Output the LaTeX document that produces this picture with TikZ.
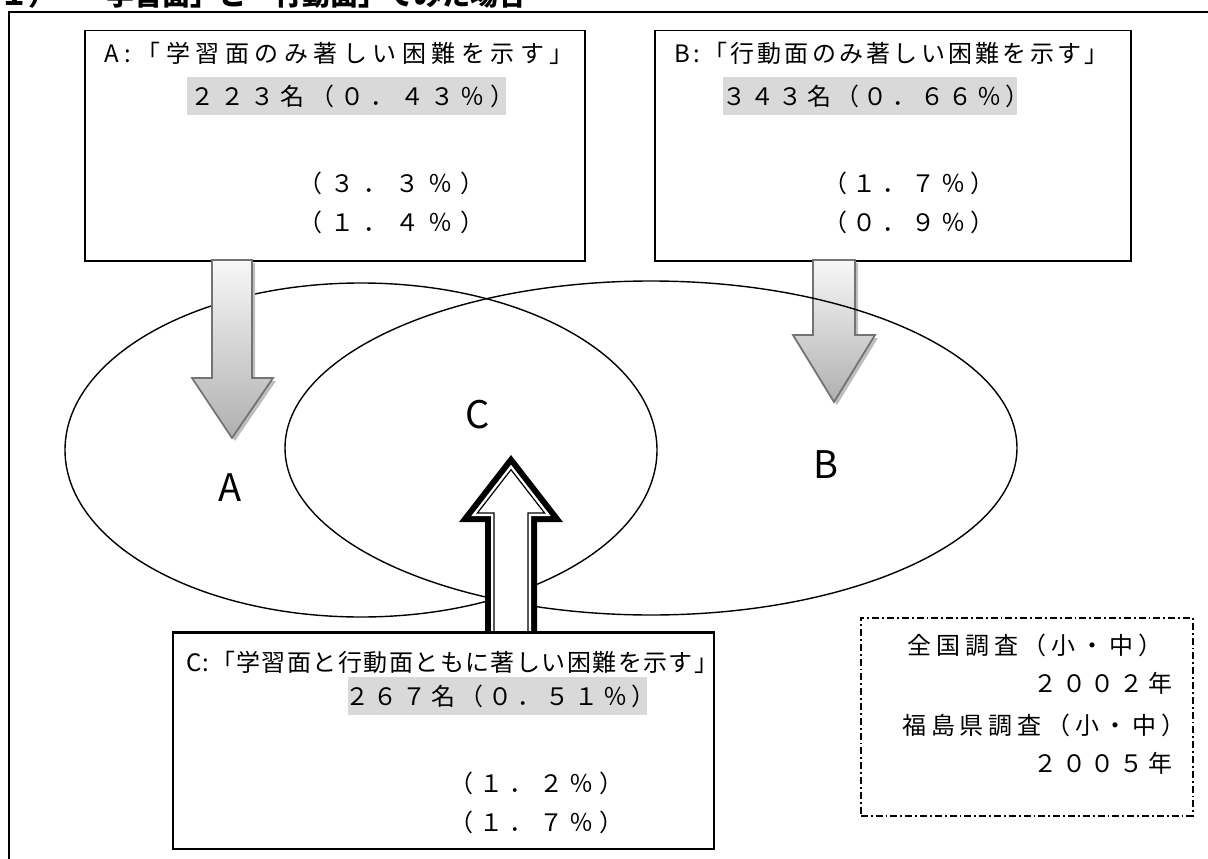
\documentclass[tikz,border=0pt]{standalone}
\usepackage{fontspec}
\setmainfont{Noto Sans CJK JP}
\newfontfamily\jpt{Noto Sans CJK JP}
\usetikzlibrary{shapes.geometric}
\definecolor{hlgray}{RGB}{217,217,217}
\definecolor{arrline}{RGB}{115,115,115}
\definecolor{arrshadow}{RGB}{190,190,190}
\newcommand{\jfont}[1]{\jpt\fontsize{24}{28}\selectfont\addfontfeature{LetterSpace=#1}}
\begin{document}
\begin{tikzpicture}[x=1pt,y=-1pt,
  jt/.style={inner sep=0pt, anchor=west, font=\jfont{#1}},
  jp/.style={inner sep=0pt, font=\jfont{#1}},
  jl/.style={inner sep=0pt, font=\jfont{20}},
  hl/.style={fill=hlgray, inner sep=0pt, minimum height=38pt, anchor=west},
  box/.style={draw, line width=1.5pt, inner sep=0pt, anchor=north west},
  dbox/.style={draw, line width=1.6pt, inner sep=0pt, anchor=north west, dash pattern=on 7pt off 3pt on 1.8pt off 3pt},
  venn/.style={draw, ellipse, line width=1.4pt, inner sep=0pt},
  lbl/.style={inner sep=0pt, font=\jpt\fontsize{38}{40}\selectfont},
  garrow/.style={top color=gray!6, bottom color=gray!62, draw=arrline, line width=1.8pt, line join=miter},
  gshadow/.style={fill=arrshadow}
]
\clip (0,0) rectangle (1208,859);
% title (cut at top, as in the reference)
\node[anchor=base west, inner sep=0pt, font=\jpt\bfseries\fontsize{28}{30}\selectfont] (title) at (0,6) {１）\hspace{22pt}「学習面」と「行動面」でみた場合};
% outer frame
\draw[line width=2pt] (9,12) rectangle (1225,875);

% boxes
\node[box, minimum width=500pt, minimum height=230pt] (boxA) at (84,30) {};
\node[box, minimum width=476pt, minimum height=230pt] (boxB) at (654,30) {};
\node[box, minimum width=541pt, minimum height=216pt] (boxC) at (172,632) {};
\node[dbox, minimum width=332pt, minimum height=198pt] (boxD) at (860,617) {};

% highlight bands
\node[hl, minimum width=319pt] (hA) at (187,96) {};
\node[hl, minimum width=294pt] (hB) at (723,96) {};
\node[hl, minimum width=299pt] (hC) at (348,696) {};

% box A texts
\node[jt=23] (tA) at (104,53) {A:「学習面のみ著しい困難を示す」};
\node[jt=25] (nA) at (190,96) {２２３名（０．４３％）};
\node[jp=35] (pA1) at (391.5,183) {（３．３％）};
\node[jp=35] (pA2) at (391.5,222) {（１．４％）};
% box B texts
\node[jt=13.5] (tB) at (674,53) {B:「行動面のみ著しい困難を示す」};
\node[jt=18] (nB) at (722,96) {３４３名（０．６６％）};
\node[jp=22.5] (pB1) at (909,183) {（１．７％）};
\node[jp=22.5] (pB2) at (909,222) {（０．９％）};
% box C texts
\node[jt=6] (tC) at (186,662) {C:「学習面と行動面ともに著しい困難を示す」};
\node[jt=19.5] (nC) at (345,696) {２６７名（０．５１％）};
\node[jp=25] (pC1) at (536,783) {（１．２％）};
\node[jp=25] (pC2) at (536,822) {（１．７％）};
% legend texts
\node[jl] (d1) at (1035,645) {全国調査（小・中）};
\node[jl] (d2) at (1103,683) {２００２年};
\node[jl] (d3) at (1044,725) {福島県調査（小・中）};
\node[jl] (d4) at (1103,763) {２００５年};

% arrow B (under the ellipse lines)
\fill[gshadow] (816,263) -- (816,338) -- (796,338) -- (837,405) -- (878,338) -- (858,338) -- (858,263) -- cycle;
\path[garrow] (813,260) -- (813,335) -- (793,335) -- (834,402) -- (875,335) -- (855,335) -- (855,260) -- cycle;

% Venn ellipses
\node[venn, minimum width=592pt, minimum height=334pt] (eA) at (361,450) {};
\node[venn, minimum width=732pt, minimum height=334pt] (eB) at (651,448) {};

% arrow A
\fill[gshadow] (215,263) -- (215,381) -- (195,381) -- (235,441) -- (276,381) -- (255,381) -- (255,263) -- cycle;
\path[garrow] (212,260) -- (212,378) -- (192,378) -- (232,438) -- (273,378) -- (252,378) -- (252,260) -- cycle;

% arrow C (double outline, pointing up)
\fill (485,632) -- (485,522) -- (459,522) -- (511,455) -- (563,522) -- (537,522) -- (537,632) -- cycle;
\fill[white] (491,632) -- (491,516) -- (471.3,516) -- (511,464.8) -- (550.7,516) -- (531,516) -- (531,632) -- cycle;
\draw[line width=1.2pt, fill=white] (494,632) -- (494,513) -- (477.4,513) -- (511,469.7) -- (544.6,513) -- (528,513) -- (528,632);
\draw[line width=1.5pt] (boxC.north west) -- (boxC.north east);

% ellipse labels
\node[lbl] (lA) at (230,488) {A};
\node[lbl] (lB) at (826,465) {B};
\node[lbl] (lC) at (478,415) {C};
\end{tikzpicture}
\end{document}
